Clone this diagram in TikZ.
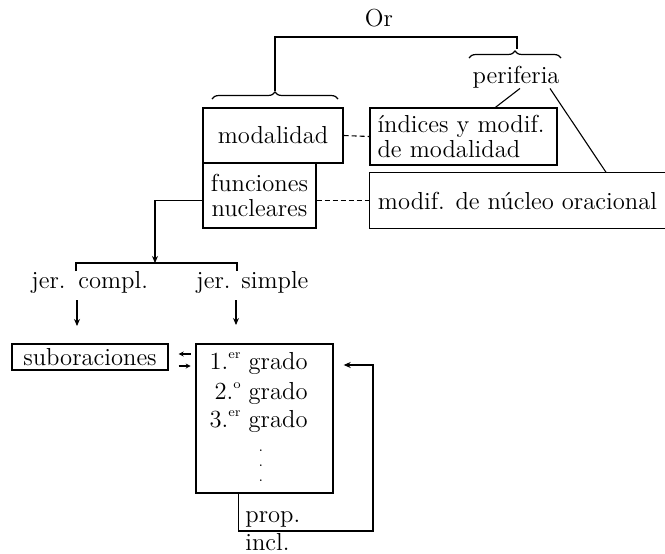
\documentclass[tikz,border=0pt]{standalone}
\usetikzlibrary{arrows.meta,decorations.pathreplacing,calc}
\newcommand\ordsup[1]{\raisebox{0.95ex}{\fontsize{6.5}{6.5}\selectfont #1}}
\tikzset{
  box/.style={draw, line width=0.7pt, inner sep=0pt},
  lbl/.style={inner sep=0pt},
  link/.style={line width=0.55pt},
  dsh/.style={line width=0.55pt, dash pattern=on 2.5pt off 1.5pt},
  arr/.style={line width=0.55pt, -{Stealth[length=3.5pt,width=3pt]}},
  tinyarr/.style={line width=0.55pt, -{Stealth[length=2.5pt,width=2.5pt]}},
  brc/.style={line width=0.6pt, decorate, decoration={brace, amplitude=3.5pt}},
  twolines/.style={font=\fontsize{12.3}{12.5}\selectfont},
}
\begin{document}
\begin{tikzpicture}[x=0.5pt,y=-0.5pt,font=\fontsize{12.3}{14}\selectfont]
\useasboundingbox (0,0) rectangle (665,553);
% top of the tree
\node[lbl] (or) at (379,18) {Or};
\node[lbl] (periferia) at (516,77) {periferia};
\coordinate (ortop) at (379,37);
\coordinate (mtip) at (275,91);
\coordinate (ptip) at (517,49);
\draw[brc] (212,99) -- (338,99);
\draw[brc] (469,58) -- (561,58);
\draw[link] (mtip) |- (ortop) -| (ptip);
% boxes
\node[box, minimum width=70pt, minimum height=27.5pt] (modal) at (273,135.5) {modalidad};
\node[box, twolines, minimum width=93.5pt, minimum height=28.5pt, text width=86pt, align=left] (indices) at (463.5,136.5) {índices y modif.\\de modalidad};
\node[box, twolines, minimum width=56.5pt, minimum height=32.5pt, align=center] (funciones) at (259.5,195.5) {funciones\\nucleares};
\node[lbl, minimum width=147.5pt, minimum height=27.5pt] (modif) at (517.5,200.5) {modif. de núcleo oracional};
\draw[line width=0.7pt] (modif.north east) -- (modif.north west) -- (modif.south west) -- (modif.south east);
\draw[dsh] (modal.east) -- (indices.west);
\draw[dsh] (modif.west -| funciones.east) -- (modif.west);
\draw[link] ([xshift=2pt]periferia.south) -- ($(indices.north east)!0.33!(indices.north west)$);
\draw[link] ([xshift=17pt]periferia.south) -- ($(modif.north west)!0.8!(modif.north east)$);
% jerarquias
\coordinate (jtop) at (155,263);
\coordinate (jl) at (76,271);
\coordinate (jr) at (237,271);
\draw[arr] (modif.west -| funciones.west) -| (jtop);
\draw[link] (jl) |- (jtop) -| (jr);
\node[lbl, anchor=base east] (jer1) at (66,288) {jer.};
\node[lbl, anchor=base west] (compl) at (78,288) {compl.};
\node[lbl, anchor=base east] (jer2) at (231,288) {jer.};
\node[lbl, anchor=base west] (simple) at (241,288) {simple};
\coordinate (c1) at (77,300);
\coordinate (c2) at (236,300);
\draw[arr] (c1) -- ++(0,-13pt);
\draw[arr] (c2) -- ++(0,-12.5pt);
% grados
\node[box, minimum width=78pt, minimum height=13pt] (subor) at (90,357) {suboraciones};
\node[box, minimum width=68.5pt, minimum height=74.5pt] (grados) at (264.5,418.5) {};
\node[lbl, anchor=base east] (g1) at (308,369) {1.\ordsup{er} grado};
\node[lbl, anchor=base east] (g2) at (308,399) {2.\ordsup{o} grado};
\node[lbl, anchor=base east] (g3) at (308,427) {3.\ordsup{er} grado};
\node[lbl, font=\fontsize{7}{7.5}\selectfont, align=center] (dots) at (261,466) {.\\.\\.};
\draw[tinyarr] ($(subor.east)+(11pt,1.5pt)$) -- ++(-6pt,0);
\draw[tinyarr] ($(subor.east)+(5pt,-4.5pt)$) -- ++(6pt,0);
% prop. incl.
\coordinate (ps) at ($(grados.south west)!0.314!(grados.south east)$);
\coordinate (pc) at (373,531);
\draw[arr] (ps) |- (pc) |- ($(grados.east |- g1)+(5pt,-1pt)$);
\node[lbl, anchor=base west] (prop) at (245,522) {prop.};
\node[lbl, anchor=base west] (incl) at (245,550) {incl.};
\end{tikzpicture}
\end{document}
